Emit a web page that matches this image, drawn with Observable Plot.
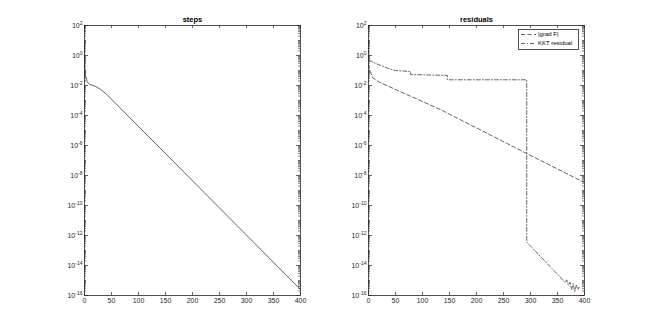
<!DOCTYPE html>
<html>
<head>
<meta charset="utf-8">
<script src="https://cdn.jsdelivr.net/npm/d3@7"></script>
<script src="https://cdn.jsdelivr.net/npm/@observablehq/plot@0.6"></script>
<style>
  body { margin: 0; background: #fff; }
  #wrap { position: relative; width: 645px; height: 331px; background: #fff; overflow: hidden; }
  #wrap > svg, #wrap > figure { position: absolute; top: 0; margin: 0; }
</style>
</head>
<body>
<div id="wrap"></div>
<script>
// ---------- data ----------
const stepIter = [0, 1, 3, 5, 9, 20, 30, 40, 400];
const stepVal  = [7.9, 3.8e-2, 3.5e-2, 1.78e-2, 1.2e-2, 8.9e-3, 5.4e-3, 2.8e-3, 2.5e-16];

const gradIter = [0, 3, 8, 20, 133, 294, 400];
const gradVal  = [0.25, 8.9e-2, 3.2e-2, 1.66e-2, 2.5e-4, 2.8e-7, 3.4e-9];

const kktIter = [0, 1, 18, 37, 50, 78, 78, 146, 146, 293, 293, 355, 360, 364, 367, 370, 373, 376, 379, 382, 385, 388, 390];
const kktVal  = [7.9, 0.47, 0.25, 0.135, 0.1, 0.085, 0.054, 0.047, 0.024, 0.024, 3.6e-13, 1.7e-15, 1e-15, 7.1e-16, 1.1e-15, 5e-16, 7.9e-16, 2.5e-16, 6.3e-16, 1.8e-16, 5e-16, 2.5e-16, 3.5e-16];

const xTickValues = [0, 50, 100, 150, 200, 250, 300, 350, 400];
const yTickValues = [1e-16, 1e-14, 1e-12, 1e-10, 1e-8, 1e-6, 1e-4, 1e-2, 1e0, 1e2];
const titles = ["steps", "residuals"];
const legendLabels = ["|grad F|", "KKT residual"];

// ---------- helpers ----------
const H = 331, MT = 25, MB = 36;
const AX = "#262626";
const FONT = "'Liberation Sans', Arial, Helvetica, sans-serif";

const minorY = [];
for (let k = -16; k < 2; k++) for (let m = 2; m <= 9; m++) minorY.push(m * Math.pow(10, k));
for (let k = -15; k <= 1; k += 2) minorY.push(Math.pow(10, k));

const toPts = (xs, ys) => xs.map((x, i) => ({x, y: ys[i]}));

function panel(title, width, ml, mr, dataMarks) {
  const pw = width - ml - mr, ph = H - MT - MB;
  const svg = Plot.plot({
    width, height: H, marginLeft: ml, marginRight: mr, marginTop: MT, marginBottom: MB,
    x: {domain: [0, 400]},
    y: {type: "log", domain: [1e-16, 1e2]},
    style: {fontFamily: FONT, fontSize: "7px", color: AX, background: "transparent", overflow: "visible"},
    marks: [
      ...dataMarks,
      Plot.tickY(minorY, {y: d => d, insetRight: pw - 2, stroke: AX, strokeWidth: 0.6}),
      Plot.tickY(minorY, {y: d => d, insetLeft: pw - 2, stroke: AX, strokeWidth: 0.6}),
      Plot.tickY(yTickValues, {y: d => d, insetRight: pw - 4, stroke: AX, strokeWidth: 0.7}),
      Plot.tickY(yTickValues, {y: d => d, insetLeft: pw - 4, stroke: AX, strokeWidth: 0.7}),
      Plot.tickX(xTickValues, {x: d => d, insetTop: ph - 3, stroke: AX, strokeWidth: 0.7}),
      Plot.tickX(xTickValues, {x: d => d, insetBottom: ph - 3, stroke: AX, strokeWidth: 0.7}),
      Plot.frame({stroke: AX, strokeWidth: 0.8}),
      Plot.axisY({ticks: yTickValues, tickSize: 0, tickPadding: 2, label: null,
        tickFormat: d => "10^" + Math.round(Math.log10(d))}),
      Plot.axisX({ticks: xTickValues, tickSize: 0, tickPadding: 3, label: null, tickFormat: d => String(d)}),
      Plot.text([title], {frameAnchor: "top", lineAnchor: "middle", dy: -6, fontWeight: "bold", fontSize: 7.5, fill: "#000"})
    ]
  });
  svg.querySelectorAll("text").forEach(t => {
    const m = /^10\^(-?\d+)$/.exec(t.textContent);
    if (m) {
      t.textContent = "";
      const a = document.createElementNS("http://www.w3.org/2000/svg", "tspan");
      a.textContent = "10";
      const b = document.createElementNS("http://www.w3.org/2000/svg", "tspan");
      b.textContent = m[1];
      b.setAttribute("dy", "-3");
      b.setAttribute("font-size", "5");
      t.appendChild(a); t.appendChild(b);
    }
  });
  return svg;
}

const wrap = document.getElementById("wrap");

const left = panel(titles[0], 322, 84, 22, [
  Plot.line(toPts(stepIter, stepVal), {x: "x", y: "y", stroke: "#222", strokeWidth: 0.7})
]);
left.style.left = "0px";
wrap.appendChild(left);

const right = panel(titles[1], 323, 46, 61, [
  Plot.line(toPts(gradIter, gradVal), {x: "x", y: "y", stroke: "#222", strokeWidth: 0.7, strokeDasharray: "4,2.5"}),
  Plot.line(toPts(kktIter, kktVal), {x: "x", y: "y", stroke: "#222", strokeWidth: 0.7, strokeDasharray: "4,2,1,2"})
]);
right.style.left = "322px";
wrap.appendChild(right);

const NS = "http://www.w3.org/2000/svg";
const lg = document.createElementNS(NS, "svg");
lg.setAttribute("width", 645); lg.setAttribute("height", 331);
lg.style.position = "absolute"; lg.style.left = "0"; lg.style.top = "0";
lg.innerHTML = `
  <rect x="518.5" y="29.5" width="60" height="20" fill="#fff" stroke="${AX}" stroke-width="0.8"/>
  <line x1="521" x2="536" y1="34.5" y2="34.5" stroke="#222" stroke-width="0.7" stroke-dasharray="4,2.5"/>
  <line x1="521" x2="536" y1="43.5" y2="43.5" stroke="#222" stroke-width="0.7" stroke-dasharray="4,2,1,2"/>
  <text x="538" y="34.5" dominant-baseline="middle" font-family="${FONT}" font-size="6" fill="#000">${legendLabels[0]}</text>
  <text x="538" y="43.5" dominant-baseline="middle" font-family="${FONT}" font-size="6" fill="#000">${legendLabels[1]}</text>`;
wrap.appendChild(lg);
</script>
</body>
</html>
